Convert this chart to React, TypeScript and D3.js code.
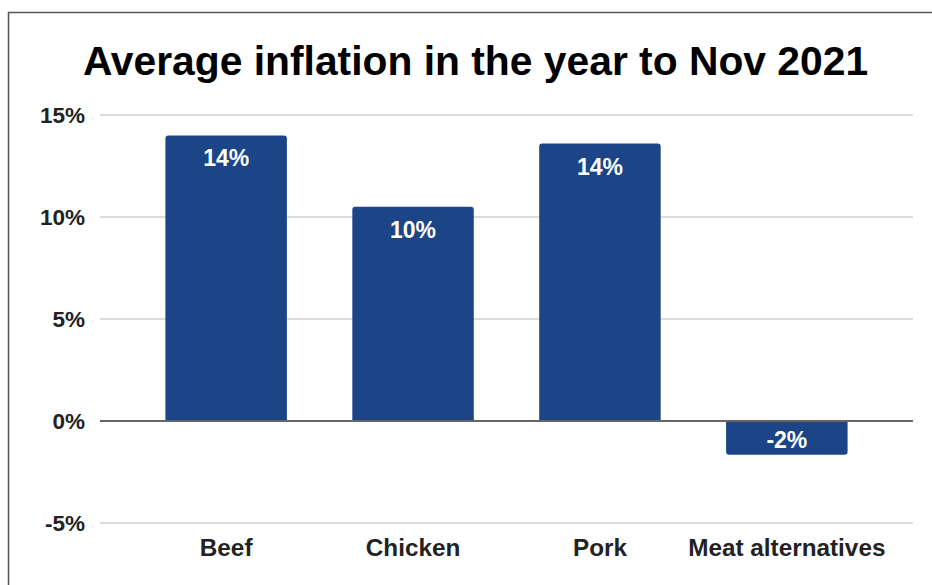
import React from "react";
import * as d3 from "d3";

const categories = ["Beef", "Chicken", "Pork", "Meat alternatives"];
const values = [14.0, 10.5, 13.6, -1.65];
const valueLabels = ["14%", "10%", "14%", "-2%"];
const yTicks = [-5, 0, 5, 10, 15];
const title = "Average inflation in the year to Nov 2021";

const W = 932;
const H = 585;
const FONT = "'Liberation Sans', Arial, sans-serif";
const BAR = "#1c4587";

function barPath(x0: number, w: number, yBase: number, yEnd: number, r: number) {
  const up = yEnd < yBase;
  const rr = Math.min(r, Math.abs(yBase - yEnd) / 2);
  const x1 = x0 + w;
  if (up) {
    return `M${x0},${yBase}V${yEnd + rr}Q${x0},${yEnd} ${x0 + rr},${yEnd}H${x1 - rr}Q${x1},${yEnd} ${x1},${yEnd + rr}V${yBase}Z`;
  }
  return `M${x0},${yBase}V${yEnd - rr}Q${x0},${yEnd} ${x0 + rr},${yEnd}H${x1 - rr}Q${x1},${yEnd} ${x1},${yEnd - rr}V${yBase}Z`;
}

export default function App() {
  const x = d3.scaleBand<string>().domain(categories).range([100, 913]).paddingInner(0.35).paddingOuter(0.35);
  const y = d3.scaleLinear().domain([-5, 15]).range([523, 115]);
  const bw = x.bandwidth();

  return (
    <svg
      width={W}
      height={H}
      style={{ position: "absolute", left: 0, top: 0, background: "#fff" }}
      fontFamily={FONT}
    >
      <rect x={0} y={0} width={W} height={H} fill="#fff" />
      {/* frame */}
      <line x1={8.5} x2={8.5} y1={12} y2={H} stroke="#555" strokeWidth={1.5} />
      <line x1={8} x2={W} y1={12.5} y2={12.5} stroke="#555" strokeWidth={1.5} />

      <text x={475.5} y={75} textAnchor="middle" fontSize={40.8} fontWeight="bold" fill="#000">
        {title}
      </text>

      {yTicks.map((t) => (
        <g key={t}>
          {t !== 0 && (
            <line x1={100} x2={913} y1={y(t)} y2={y(t)} stroke="#d0d0d0" strokeWidth={1.5} />
          )}
          <text
            x={85}
            y={y(t)}
            dy="0.36em"
            textAnchor="end"
            fontSize={22.5}
            fontWeight="bold"
            fill="#222"
          >
            {t}%
          </text>
        </g>
      ))}

      {categories.map((c, i) => {
        const v = values[i];
        const x0 = x(c)!;
        const yb = y(0);
        const ye = y(v);
        return (
          <g key={c}>
            <path d={barPath(x0, bw, yb, ye, 3)} fill={BAR} />
            <text
              x={x0 + bw / 2}
              y={v >= 0 ? ye + 31 : ye - 7}
              textAnchor="middle"
              fontSize={23}
              fontWeight="bold"
              fill="#fff"
            >
              {valueLabels[i]}
            </text>
            <text
              x={x0 + bw / 2}
              y={556}
              textAnchor="middle"
              fontSize={24.3}
              fontWeight="bold"
              fill="#222"
            >
              {c}
            </text>
          </g>
        );
      })}

      <line x1={100} x2={913} y1={y(0)} y2={y(0)} stroke="#666" strokeWidth={2} />
    </svg>
  );
}
